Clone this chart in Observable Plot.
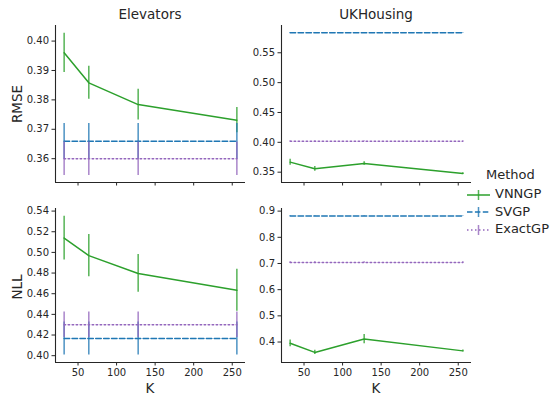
<!DOCTYPE html>
<html>
<head>
<meta charset="utf-8">
<script src="https://cdn.jsdelivr.net/npm/d3@7"></script>
<script src="https://cdn.jsdelivr.net/npm/@observablehq/plot@0.6"></script>
<style>
  body { margin: 0; background: white; }
  #wrap { position: relative; width: 552px; height: 396px; font-family: "DejaVu Sans", sans-serif; color: #262626; background: white; }
  .p { position: absolute; }
  .t { position: absolute; font-size: 13.5px; white-space: nowrap; transform: translate(-50%, -50%); }
  .yl { position: absolute; font-size: 13.5px; white-space: nowrap; transform: translate(-50%, -50%) rotate(-90deg); }
  .leg { position: absolute; font-size: 13px; white-space: nowrap; }
</style>
</head>
<body>
<div id="wrap"></div>
<script>
// ---- data ----
const K = [32, 64, 128, 256];
const xTicks = [50, 100, 150, 200, 250];
const methods = ["VNNGP", "SVGP", "ExactGP"];

// Elevators RMSE
const elevRmseVNNGP = [0.3960, 0.3858, 0.3784, 0.3731];
const elevRmseVNNGPErr = [0.0067, 0.0056, 0.0052, 0.0043];
const elevRmseSVGP = [0.3659, 0.3659, 0.3659, 0.3659];
const elevRmseSVGPErr = [0.0061, 0.0061, 0.0061, 0.0061];
const elevRmseExact = [0.3600, 0.3600, 0.3600, 0.3600];
const elevRmseExactErr = [0.0057, 0.0057, 0.0057, 0.0057];

// UKHousing RMSE
const ukRmseVNNGP = [0.3668, 0.3557, 0.3646, 0.3477];
const ukRmseVNNGPErr = [0.005, 0.004, 0.003, 0.0012];
const ukRmseSVGP = [0.5835, 0.5835, 0.5835, 0.5835];
const ukRmseSVGPErr = [0.0005, 0.0005, 0.0005, 0.0005];
const ukRmseExact = [0.4017, 0.4017, 0.4017, 0.4017];
const ukRmseExactErr = [0.0005, 0.0005, 0.0005, 0.0005];

// Elevators NLL
const elevNllVNNGP = [0.5139, 0.4969, 0.4796, 0.4633];
const elevNllVNNGPErr = [0.0212, 0.0205, 0.0183, 0.0203];
const elevNllSVGP = [0.4167, 0.4167, 0.4167, 0.4167];
const elevNllSVGPErr = [0.016, 0.016, 0.016, 0.016];
const elevNllExact = [0.4299, 0.4299, 0.4299, 0.4299];
const elevNllExactErr = [0.0123, 0.0123, 0.0123, 0.0123];

// UKHousing NLL
const ukNllVNNGP = [0.3952, 0.3603, 0.4112, 0.3662];
const ukNllVNNGPErr = [0.013, 0.008, 0.018, 0.003];
const ukNllSVGP = [0.8814, 0.8814, 0.8814, 0.8814];
const ukNllSVGPErr = [0.001, 0.001, 0.001, 0.001];
const ukNllExact = [0.7042, 0.7042, 0.7042, 0.7042];
const ukNllExactErr = [0.002, 0.002, 0.002, 0.002];

const colors = {VNNGP: "#2ca02c", SVGP: "#1f77b4", ExactGP: "#9467bd"};
const dashes = {VNNGP: null, SVGP: "5.5,2.4", ExactGP: "1.5,2.5"};

function rows(method, vals, errs) {
  return K.map((k, i) => ({K: k, method, v: vals[i], lo: vals[i] - errs[i], hi: vals[i] + errs[i]}));
}

function panel(o) {
  const series = [
    rows("VNNGP", o.vnn, o.vnnErr),
    rows("SVGP", o.svgp, o.svgpErr),
    rows("ExactGP", o.exact, o.exactErr)
  ];
  const xDomain = [20.8, 267.2];
  const marks = [];
  for (const s of series) {
    const m = s[0].method;
    marks.push(Plot.line(s, {x: "K", y: "v", stroke: colors[m], strokeWidth: 1.5, strokeDasharray: dashes[m]}));
    marks.push(Plot.ruleX(s, {x: "K", y1: "lo", y2: "hi", stroke: colors[m], strokeWidth: 1.5, strokeOpacity: 0.8}));
  }
  marks.push(Plot.axisY({ticks: o.yTicks, tickFormat: d3.format(o.yFmt), tickSize: 3.5, tickPadding: 3, label: null, fontSize: 10}));
  marks.push(Plot.axisX({ticks: xTicks, tickFormat: o.showX ? (d => String(d)) : (() => ""), tickSize: 3.5, tickPadding: 3, label: null, fontSize: 10}));
  marks.push(Plot.ruleX([xDomain[0]], {stroke: "#262626", strokeWidth: 1.1}));
  marks.push(Plot.ruleY([o.yDomain[0]], {stroke: "#262626", strokeWidth: 1.1}));
  const svg = Plot.plot({
    width: o.width, height: o.height,
    marginLeft: o.ml, marginRight: o.mr, marginTop: o.mt, marginBottom: o.mb,
    x: {domain: xDomain},
    y: {domain: o.yDomain},
    style: {fontFamily: "DejaVu Sans, sans-serif", fontSize: "10px", color: "#262626", background: "transparent", overflow: "visible"},
    marks
  });
  svg.classList.add("p");
  svg.style.left = o.left + "px";
  svg.style.top = o.top + "px";
  return svg;
}

const wrap = document.getElementById("wrap");
const y2 = d => d3.range(d[0], d[1] + 1e-9, d[2]);

wrap.appendChild(panel({
  vnn: elevRmseVNNGP, vnnErr: elevRmseVNNGPErr, svgp: elevRmseSVGP, svgpErr: elevRmseSVGPErr, exact: elevRmseExact, exactErr: elevRmseExactErr,
  yDomain: [0.3519, 0.4053], yTicks: [0.36, 0.37, 0.38, 0.39, 0.40], yFmt: ".2f", showX: false,
  left: 0, top: 0, width: 250, height: 196, ml: 55, mr: 5, mt: 25, mb: 14
}));
wrap.appendChild(panel({
  vnn: ukRmseVNNGP, vnnErr: ukRmseVNNGPErr, svgp: ukRmseSVGP, svgpErr: ukRmseSVGPErr, exact: ukRmseExact, exactErr: ukRmseExactErr,
  yDomain: [0.3327, 0.5957], yTicks: [0.35, 0.40, 0.45, 0.50, 0.55], yFmt: ".2f", showX: false,
  left: 250, top: 0, width: 226, height: 196, ml: 31, mr: 5, mt: 25, mb: 14
}));
wrap.appendChild(panel({
  vnn: elevNllVNNGP, vnnErr: elevNllVNNGPErr, svgp: elevNllSVGP, svgpErr: elevNllSVGPErr, exact: elevNllExact, exactErr: elevNllExactErr,
  yDomain: [0.3934, 0.5425], yTicks: [0.40, 0.42, 0.44, 0.46, 0.48, 0.50, 0.52, 0.54], yFmt: ".2f", showX: true,
  left: 0, top: 196, width: 250, height: 200, ml: 55, mr: 5, mt: 12, mb: 34
}));
wrap.appendChild(panel({
  vnn: ukNllVNNGP, vnnErr: ukNllVNNGPErr, svgp: ukNllSVGP, svgpErr: ukNllSVGPErr, exact: ukNllExact, exactErr: ukNllExactErr,
  yDomain: [0.3218, 0.9100], yTicks: [0.4, 0.5, 0.6, 0.7, 0.8, 0.9], yFmt: ".1f", showX: true,
  left: 250, top: 196, width: 226, height: 200, ml: 31, mr: 5, mt: 12, mb: 34
}));

function addText(cls, txt, x, y) {
  const d = document.createElement("div");
  d.className = cls; d.textContent = txt;
  d.style.left = x + "px"; d.style.top = y + "px";
  wrap.appendChild(d);
}
addText("t", "Elevators", 150, 14);
addText("t", "UKHousing", 376, 14);
addText("yl", "RMSE", 16.5, 103.5);
addText("yl", "NLL", 16.5, 287);
addText("t", "K", 150, 388);
addText("t", "K", 376, 388);

// legend
const legTitle = document.createElement("div");
legTitle.className = "leg"; legTitle.textContent = "Method";
legTitle.style.left = "486px"; legTitle.style.top = "167px";
wrap.appendChild(legTitle);
const legY = [194.5, 212, 229.5];
methods.forEach((m, i) => {
  const ns = "http://www.w3.org/2000/svg";
  const s = document.createElementNS(ns, "svg");
  s.setAttribute("width", 26); s.setAttribute("height", 14);
  s.style.position = "absolute"; s.style.left = "466px"; s.style.top = (legY[i] - 7) + "px";
  const l = document.createElementNS(ns, "line");
  l.setAttribute("x1", 1); l.setAttribute("x2", 24); l.setAttribute("y1", 7); l.setAttribute("y2", 7);
  l.setAttribute("stroke", colors[m]); l.setAttribute("stroke-width", 1.5);
  if (dashes[m]) l.setAttribute("stroke-dasharray", dashes[m]);
  const v = document.createElementNS(ns, "line");
  v.setAttribute("x1", 12.5); v.setAttribute("x2", 12.5); v.setAttribute("y1", 2); v.setAttribute("y2", 12);
  v.setAttribute("stroke", colors[m]); v.setAttribute("stroke-width", 1.5); v.setAttribute("stroke-opacity", 0.8);
  s.appendChild(l); s.appendChild(v);
  wrap.appendChild(s);
  const t = document.createElement("div");
  t.className = "leg"; t.textContent = m;
  t.style.left = "495px"; t.style.top = (legY[i] - 8.5) + "px";
  wrap.appendChild(t);
});
</script>
</body>
</html>
